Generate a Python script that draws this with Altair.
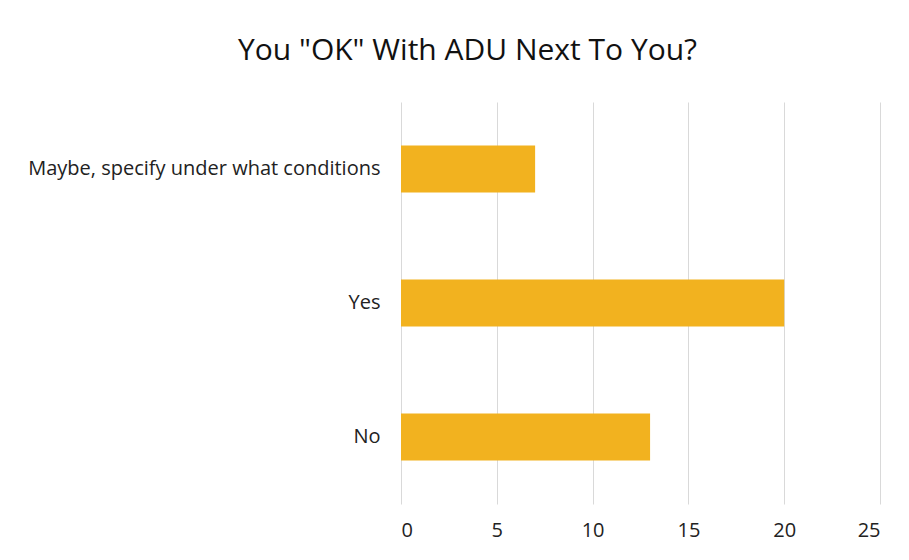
import altair as alt
import pandas as pd

# Survey responses
answers = ["Maybe, specify under what conditions", "Yes", "No"]
counts = [7, 20, 13]
x_ticks = [0, 5, 10, 15, 20, 25]

df = pd.DataFrame({"answer": answers, "count": counts})

FONT = "Open Sans"

chart = (
    alt.Chart(df)
    .mark_bar(color="#F2B21F", size=47)
    .encode(
        x=alt.X(
            "count:Q",
            scale=alt.Scale(domain=[0, 25], nice=False),
            axis=alt.Axis(
                values=x_ticks,
                title=None,
                domain=False,
                ticks=False,
                labelPadding=16,
                labelFontSize=20,
                labelFont=FONT,
                labelColor="#222222",
                gridColor="#d9d9d9",
                gridWidth=1,
            ),
        ),
        y=alt.Y(
            "answer:N",
            sort=answers,
            scale=alt.Scale(paddingInner=0.65, paddingOuter=0.325),
            axis=alt.Axis(
                title=None,
                domain=False,
                ticks=False,
                grid=False,
                labelPadding=21,
                labelFontSize=20,
                labelFont=FONT,
                labelColor="#222222",
                labelLimit=500,
            ),
        ),
    )
    .properties(
        width=479,
        height=402,
        autosize=alt.AutoSizeParams(type="none"),
        padding={"left": 401, "top": 102, "right": 29, "bottom": 56},
        title=alt.TitleParams(
            'You "OK" With ADU Next To You?',
            font=FONT,
            fontSize=30,
            fontWeight="normal",
            color="#111111",
            anchor="middle",
            dx=-173,
            offset=36,
        ),
        background="white",
    )
    .configure_view(stroke=None)
)

chart.save("out.html", embed_options={"renderer": "svg", "actions": False})
